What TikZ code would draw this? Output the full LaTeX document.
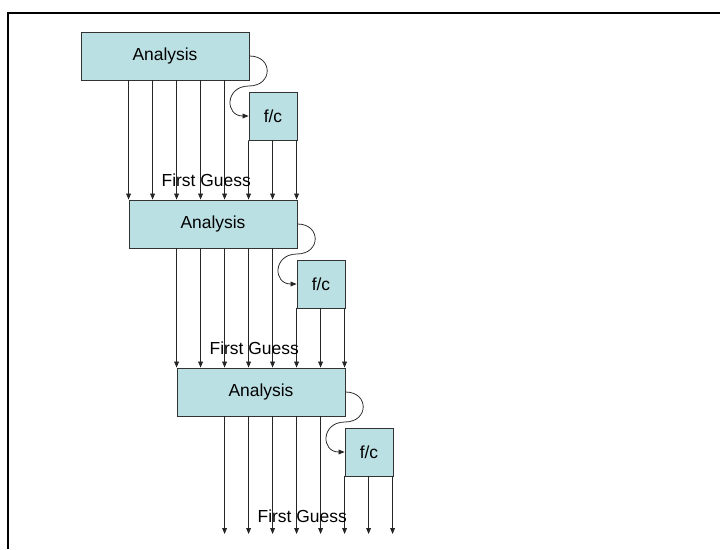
\documentclass[tikz,border=0pt]{standalone}
\usepackage{fontspec}
\setmainfont{Liberation Sans}
\usetikzlibrary{arrows.meta,calc}
\definecolor{boxcyan}{RGB}{187,224,227}

\begin{document}
\begin{tikzpicture}[
  flow/.style={-{Triangle[length=1.5mm,width=1.2mm]},draw=black!85,line width=0.55pt},
  box/.style={draw=black!80,fill=boxcyan,line width=0.6pt,minimum height=1.2cm,inner sep=0pt,
    font=\fontsize{12.4}{14}\selectfont},
  ana/.style={box,minimum width=4.2cm},
  fc/.style={box,minimum width=1.2cm},
  guess/.style={font=\fontsize{12.4}{14}\selectfont,inner sep=0pt},
  frame/.style={draw=black,line width=1.8pt},
]
\useasboundingbox (0,0) rectangle (18,13.725);
\draw[frame] (0.2,0) -- (0.2,13.4) -- (18,13.4);
% three assimilation cycles
\node[ana] (a1) at (4.125,12.325) {Analysis};
\node[fc]  (f1) at (6.825,10.825) {f/c};
\node[ana] (a2) at (5.325,8.125) {Analysis};
\node[fc]  (f2) at (8.025,6.625) {f/c};
\node[ana] (a3) at (6.525,3.925) {Analysis};
\node[fc]  (f3) at (9.225,2.425) {f/c};
\coordinate (bottom) at (0,0.375);
\foreach \i/\j in {1/2,2/3} {
  \foreach \k in {2,...,6}
    \draw[flow] ($(a\i.south west)+(\k*0.6,0)$) -- ($(a\j.north west)+(\k*0.6-1.2,0)$);
  \foreach \k in {0,1,2}
    \draw[flow] ($(f\i.south west)+(\k*0.6,0)$) -- ($(a\j.north west)+(\k*0.6+3,0)$);
}
\foreach \k in {2,...,6}
  \draw[flow] ($(a3.south west)+(\k*0.6,0)$) coordinate (s) -- (s |- bottom);
\foreach \k in {0,1,2}
  \draw[flow] ($(f3.south west)+(\k*0.6,0)$) coordinate (s) -- (s |- bottom);
% forecast step
\foreach \i in {1,2,3} {
  \path (a\i.east) -- (f\i.west) coordinate[midway] (m\i);
  \draw[flow] (a\i.east) .. controls +(0.6,0) and +(0.6,0) .. (m\i)
    .. controls +(-0.6,0) and +(-0.6,0) .. (f\i.west);
  \node[guess] (g\i) at ($(a\i.south west)+(3.14,-2.5)$) {First Guess};
}
\end{tikzpicture}
\end{document}
